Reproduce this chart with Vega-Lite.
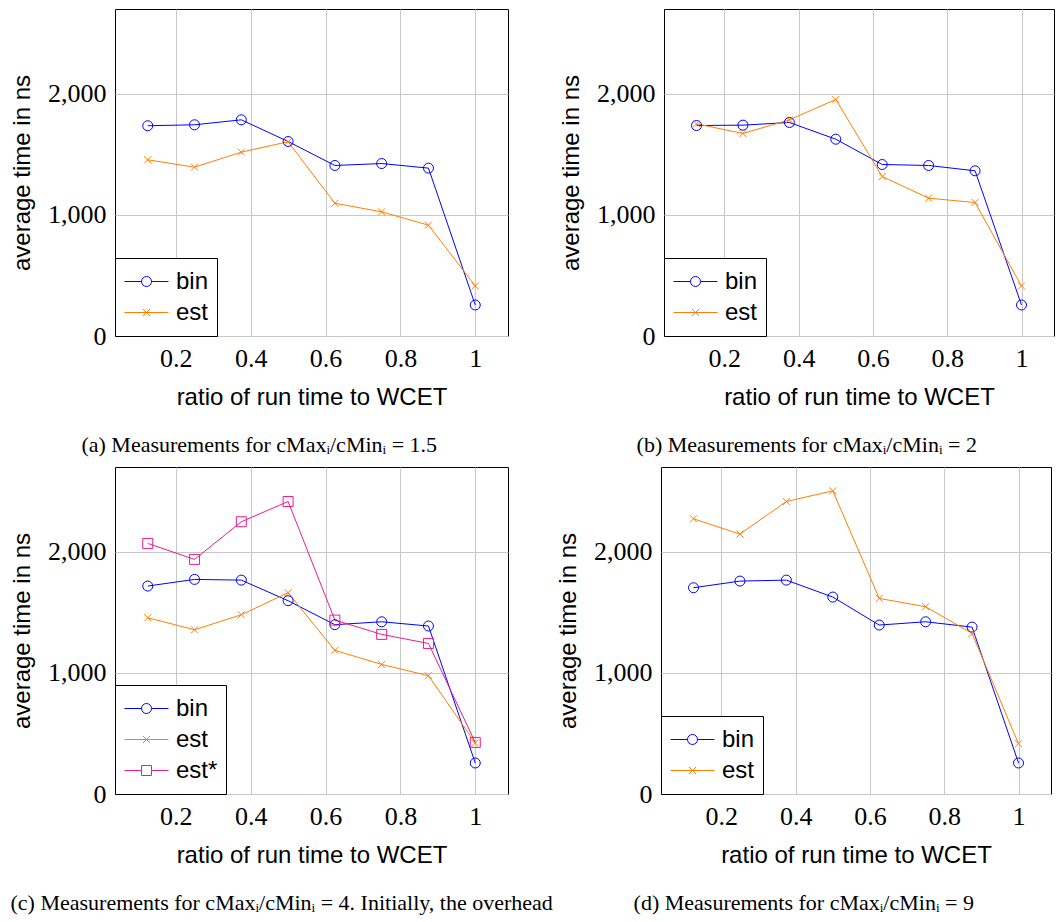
{
  "$schema": "https://vega.github.io/schema/vega-lite/v6.json",
  "padding": {"top": 8, "left": 10, "right": 0, "bottom": 0},
  "background": "white",
  "datasets": {
    "all": [
      {"panel": "a", "series": "bin", "ratio": 0.125, "time": 1736},
      {"panel": "a", "series": "bin", "ratio": 0.25, "time": 1744},
      {"panel": "a", "series": "bin", "ratio": 0.375, "time": 1785},
      {"panel": "a", "series": "bin", "ratio": 0.5, "time": 1606},
      {"panel": "a", "series": "bin", "ratio": 0.625, "time": 1408},
      {"panel": "a", "series": "bin", "ratio": 0.75, "time": 1424},
      {"panel": "a", "series": "bin", "ratio": 0.875, "time": 1386},
      {"panel": "a", "series": "bin", "ratio": 1, "time": 256},
      {"panel": "a", "series": "est", "ratio": 0.125, "time": 1455},
      {"panel": "a", "series": "est", "ratio": 0.25, "time": 1394},
      {"panel": "a", "series": "est", "ratio": 0.375, "time": 1518},
      {"panel": "a", "series": "est", "ratio": 0.5, "time": 1604},
      {"panel": "a", "series": "est", "ratio": 0.625, "time": 1096},
      {"panel": "a", "series": "est", "ratio": 0.75, "time": 1025},
      {"panel": "a", "series": "est", "ratio": 0.875, "time": 915},
      {"panel": "a", "series": "est", "ratio": 1, "time": 413},
      {"panel": "b", "series": "bin", "ratio": 0.125, "time": 1738},
      {"panel": "b", "series": "bin", "ratio": 0.25, "time": 1741},
      {"panel": "b", "series": "bin", "ratio": 0.375, "time": 1763},
      {"panel": "b", "series": "bin", "ratio": 0.5, "time": 1625},
      {"panel": "b", "series": "bin", "ratio": 0.625, "time": 1416},
      {"panel": "b", "series": "bin", "ratio": 0.75, "time": 1408},
      {"panel": "b", "series": "bin", "ratio": 0.875, "time": 1364},
      {"panel": "b", "series": "bin", "ratio": 1, "time": 256},
      {"panel": "b", "series": "est", "ratio": 0.125, "time": 1752},
      {"panel": "b", "series": "est", "ratio": 0.25, "time": 1672},
      {"panel": "b", "series": "est", "ratio": 0.375, "time": 1785},
      {"panel": "b", "series": "est", "ratio": 0.5, "time": 1953},
      {"panel": "b", "series": "est", "ratio": 0.625, "time": 1317},
      {"panel": "b", "series": "est", "ratio": 0.75, "time": 1138},
      {"panel": "b", "series": "est", "ratio": 0.875, "time": 1102},
      {"panel": "b", "series": "est", "ratio": 1, "time": 413},
      {"panel": "c", "series": "bin", "ratio": 0.125, "time": 1717},
      {"panel": "c", "series": "bin", "ratio": 0.25, "time": 1772},
      {"panel": "c", "series": "bin", "ratio": 0.375, "time": 1766},
      {"panel": "c", "series": "bin", "ratio": 0.5, "time": 1596},
      {"panel": "c", "series": "bin", "ratio": 0.625, "time": 1398},
      {"panel": "c", "series": "bin", "ratio": 0.75, "time": 1422},
      {"panel": "c", "series": "bin", "ratio": 0.875, "time": 1387},
      {"panel": "c", "series": "bin", "ratio": 1, "time": 256},
      {"panel": "c", "series": "est", "ratio": 0.125, "time": 1455},
      {"panel": "c", "series": "est", "ratio": 0.25, "time": 1356},
      {"panel": "c", "series": "est", "ratio": 0.375, "time": 1480},
      {"panel": "c", "series": "est", "ratio": 0.5, "time": 1662},
      {"panel": "c", "series": "est", "ratio": 0.625, "time": 1186},
      {"panel": "c", "series": "est", "ratio": 0.75, "time": 1070},
      {"panel": "c", "series": "est", "ratio": 0.875, "time": 977},
      {"panel": "c", "series": "est", "ratio": 1, "time": 421},
      {"panel": "c", "series": "est*", "ratio": 0.125, "time": 2069},
      {"panel": "c", "series": "est*", "ratio": 0.25, "time": 1937},
      {"panel": "c", "series": "est*", "ratio": 0.375, "time": 2248},
      {"panel": "c", "series": "est*", "ratio": 0.5, "time": 2415},
      {"panel": "c", "series": "est*", "ratio": 0.625, "time": 1436},
      {"panel": "c", "series": "est*", "ratio": 0.75, "time": 1318},
      {"panel": "c", "series": "est*", "ratio": 0.875, "time": 1243},
      {"panel": "c", "series": "est*", "ratio": 1, "time": 426},
      {"panel": "d", "series": "bin", "ratio": 0.125, "time": 1703},
      {"panel": "d", "series": "bin", "ratio": 0.25, "time": 1758},
      {"panel": "d", "series": "bin", "ratio": 0.375, "time": 1766},
      {"panel": "d", "series": "bin", "ratio": 0.5, "time": 1626},
      {"panel": "d", "series": "bin", "ratio": 0.625, "time": 1395},
      {"panel": "d", "series": "bin", "ratio": 0.75, "time": 1422},
      {"panel": "d", "series": "bin", "ratio": 0.875, "time": 1378},
      {"panel": "d", "series": "bin", "ratio": 1, "time": 256},
      {"panel": "d", "series": "est", "ratio": 0.125, "time": 2272},
      {"panel": "d", "series": "est", "ratio": 0.25, "time": 2146},
      {"panel": "d", "series": "est", "ratio": 0.375, "time": 2415},
      {"panel": "d", "series": "est", "ratio": 0.5, "time": 2503},
      {"panel": "d", "series": "est", "ratio": 0.625, "time": 1615},
      {"panel": "d", "series": "est", "ratio": 0.75, "time": 1546},
      {"panel": "d", "series": "est", "ratio": 0.875, "time": 1326},
      {"panel": "d", "series": "est", "ratio": 1, "time": 415}
    ]
  },
  "data": {"name": "all"},
  "vconcat": [
    {
      "bounds": "flush",
      "hconcat": [
        {
          "width": 393, "height": 327,
          "title": {"text": "(a) Measurements for cMaxᵢ/cMinᵢ = 1.5"},
          "transform": [{"filter": "datum.panel === 'a'"}],
          "encoding": {
            "x": {"field": "ratio", "type": "quantitative", "scale": {"domain": [0.0375, 1.0875], "nice": false, "zero": false}, "axis": {"values": [0.2, 0.4, 0.6, 0.8, 1], "format": "~g", "title": "ratio of run time to WCET"}},
            "y": {"field": "time", "type": "quantitative", "scale": {"domain": [0, 2700], "nice": false}, "axis": {"values": [0, 1000, 2000], "format": ",.0f", "title": "average time in ns"}},
            "color": {"field": "series", "type": "nominal", "scale": {"domain": ["bin", "est"], "range": ["#0000ff", "#ff8000"]},
              "legend": {"encode": {"symbols": {"update": {"shape": {"signal": "datum.value === 'bin' ? 'M-1,0H-0.227M0.227,0H1M-0.227,0A0.227,0.227,0,1,0,0.227,0A0.227,0.227,0,1,0,-0.227,0' : datum.value === 'est' ? 'M-1,0H1M-0.16,-0.16L0.16,0.16M-0.16,0.16L0.16,-0.16' : 'M-1,0H-0.227M0.227,0H1M-0.227,-0.227H0.227V0.227H-0.227Z'"}, "stroke": {"signal": "datum.value === 'bin' ? '#0000ff' : datum.value === 'est' ? '#ff8000' : '#ec1c8e'"}, "fill": {"value": "transparent"}, "opacity": {"value": 1}, "strokeOpacity": {"value": 1}}}}}}
          },
          "layer": [
            {"mark": {"type": "line", "strokeWidth": 1}},
            {"mark": {"type": "point", "filled": false, "size": 100, "strokeWidth": 1, "opacity": 1}, "encoding": {"shape": {"field": "series", "type": "nominal", "scale": {"domain": ["bin", "est", "est*", "none"], "range": ["circle", "M-0.7,-0.7L0.7,0.7M-0.7,0.7L0.7,-0.7", "square", "circle"]}, "legend": null}}}
          ]
        },
        {
          "width": 390, "height": 327,
          "title": {"text": "(b) Measurements for cMaxᵢ/cMinᵢ = 2"},
          "transform": [{"filter": "datum.panel === 'b'"}],
          "encoding": {
            "x": {"field": "ratio", "type": "quantitative", "scale": {"domain": [0.0375, 1.0875], "nice": false, "zero": false}, "axis": {"values": [0.2, 0.4, 0.6, 0.8, 1], "format": "~g", "title": "ratio of run time to WCET"}},
            "y": {"field": "time", "type": "quantitative", "scale": {"domain": [0, 2700], "nice": false}, "axis": {"values": [0, 1000, 2000], "format": ",.0f", "title": "average time in ns"}},
            "color": {"field": "series", "type": "nominal", "scale": {"domain": ["bin", "est"], "range": ["#0000ff", "#ff8000"]},
              "legend": {"encode": {"symbols": {"update": {"shape": {"signal": "datum.value === 'bin' ? 'M-1,0H-0.227M0.227,0H1M-0.227,0A0.227,0.227,0,1,0,0.227,0A0.227,0.227,0,1,0,-0.227,0' : datum.value === 'est' ? 'M-1,0H1M-0.16,-0.16L0.16,0.16M-0.16,0.16L0.16,-0.16' : 'M-1,0H-0.227M0.227,0H1M-0.227,-0.227H0.227V0.227H-0.227Z'"}, "stroke": {"signal": "datum.value === 'bin' ? '#0000ff' : datum.value === 'est' ? '#ff8000' : '#ec1c8e'"}, "fill": {"value": "transparent"}, "opacity": {"value": 1}, "strokeOpacity": {"value": 1}}}}}}
          },
          "layer": [
            {"mark": {"type": "line", "strokeWidth": 1}},
            {"mark": {"type": "point", "filled": false, "size": 100, "strokeWidth": 1, "opacity": 1}, "encoding": {"shape": {"field": "series", "type": "nominal", "scale": {"domain": ["bin", "est", "est*", "none"], "range": ["circle", "M-0.7,-0.7L0.7,0.7M-0.7,0.7L0.7,-0.7", "square", "circle"]}, "legend": null}}}
          ]
        }
      ],
      "spacing": 156,
      "resolve": {"scale": {"color": "independent", "shape": "independent"}, "legend": {"color": "independent"}}
    },
    {
      "bounds": "flush",
      "hconcat": [
        {
          "width": 393, "height": 327,
          "title": {"text": "(c) Measurements for cMaxᵢ/cMinᵢ = 4. Initially, the overhead", "anchor": "start"},
          "transform": [{"filter": "datum.panel === 'c'"}],
          "encoding": {
            "x": {"field": "ratio", "type": "quantitative", "scale": {"domain": [0.0375, 1.0875], "nice": false, "zero": false}, "axis": {"values": [0.2, 0.4, 0.6, 0.8, 1], "format": "~g", "title": "ratio of run time to WCET"}},
            "y": {"field": "time", "type": "quantitative", "scale": {"domain": [0, 2700], "nice": false}, "axis": {"values": [0, 1000, 2000], "format": ",.0f", "title": "average time in ns"}},
            "color": {"field": "series", "type": "nominal", "scale": {"domain": ["bin", "est", "est*"], "range": ["#0000ff", "#ff8000", "#ec1c8e"]},
              "legend": {"encode": {"symbols": {"update": {"shape": {"signal": "datum.value === 'bin' ? 'M-1,0H-0.227M0.227,0H1M-0.227,0A0.227,0.227,0,1,0,0.227,0A0.227,0.227,0,1,0,-0.227,0' : datum.value === 'est' ? 'M-1,0H1M-0.16,-0.16L0.16,0.16M-0.16,0.16L0.16,-0.16' : 'M-1,0H-0.227M0.227,0H1M-0.227,-0.227H0.227V0.227H-0.227Z'"}, "stroke": {"signal": "datum.value === 'bin' ? '#0000ff' : datum.value === 'est' ? '#ff8000' : '#ec1c8e'"}, "fill": {"value": "transparent"}, "opacity": {"value": 1}, "strokeOpacity": {"value": 1}}}}}}
          },
          "layer": [
            {"mark": {"type": "line", "strokeWidth": 1}},
            {"mark": {"type": "point", "filled": false, "size": 100, "strokeWidth": 1, "opacity": 1}, "encoding": {"shape": {"field": "series", "type": "nominal", "scale": {"domain": ["bin", "est", "est*", "none"], "range": ["circle", "M-0.7,-0.7L0.7,0.7M-0.7,0.7L0.7,-0.7", "square", "circle"]}, "legend": null}}}
          ]
        },
        {
          "width": 390, "height": 327,
          "title": {"text": "(d) Measurements for cMaxᵢ/cMinᵢ = 9"},
          "transform": [{"filter": "datum.panel === 'd'"}],
          "encoding": {
            "x": {"field": "ratio", "type": "quantitative", "scale": {"domain": [0.0375, 1.0875], "nice": false, "zero": false}, "axis": {"values": [0.2, 0.4, 0.6, 0.8, 1], "format": "~g", "title": "ratio of run time to WCET"}},
            "y": {"field": "time", "type": "quantitative", "scale": {"domain": [0, 2700], "nice": false}, "axis": {"values": [0, 1000, 2000], "format": ",.0f", "title": "average time in ns"}},
            "color": {"field": "series", "type": "nominal", "scale": {"domain": ["bin", "est"], "range": ["#0000ff", "#ff8000"]},
              "legend": {"encode": {"symbols": {"update": {"shape": {"signal": "datum.value === 'bin' ? 'M-1,0H-0.227M0.227,0H1M-0.227,0A0.227,0.227,0,1,0,0.227,0A0.227,0.227,0,1,0,-0.227,0' : datum.value === 'est' ? 'M-1,0H1M-0.16,-0.16L0.16,0.16M-0.16,0.16L0.16,-0.16' : 'M-1,0H-0.227M0.227,0H1M-0.227,-0.227H0.227V0.227H-0.227Z'"}, "stroke": {"signal": "datum.value === 'bin' ? '#0000ff' : datum.value === 'est' ? '#ff8000' : '#ec1c8e'"}, "fill": {"value": "transparent"}, "opacity": {"value": 1}, "strokeOpacity": {"value": 1}}}}}}
          },
          "layer": [
            {"mark": {"type": "line", "strokeWidth": 1}},
            {"mark": {"type": "point", "filled": false, "size": 100, "strokeWidth": 1, "opacity": 1}, "encoding": {"shape": {"field": "series", "type": "nominal", "scale": {"domain": ["bin", "est", "est*", "none"], "range": ["circle", "M-0.7,-0.7L0.7,0.7M-0.7,0.7L0.7,-0.7", "square", "circle"]}, "legend": null}}}
          ]
        }
      ],
      "spacing": 153,
      "resolve": {"scale": {"color": "independent", "shape": "independent"}, "legend": {"color": "independent"}}
    }
  ],
  "spacing": 9,
  "resolve": {"scale": {"color": "independent", "shape": "independent"}, "legend": {"color": "independent"}},
  "config": {
    "font": "Liberation Sans",
    "view": {"stroke": "black", "strokeWidth": 1},
    "axis": {
      "labelFont": "Liberation Serif", "labelFontSize": 26, "labelColor": "black", "labelPadding": 9,
      "titleFont": "Liberation Sans", "titleFontSize": 24, "titleFontWeight": "normal", "titleColor": "black",
      "gridColor": "#c8c8c8", "gridWidth": 1, "gridOpacity": 1, "domain": false, "ticks": false
    },
    "axisX": {"titlePadding": 14},
    "axisY": {"titlePadding": 13},
    "title": {"font": "Liberation Serif", "fontSize": 22, "fontWeight": "normal", "color": "black", "orient": "bottom", "frame": "bounds", "offset": 26, "anchor": "middle"},
    "legend": {
      "orient": "bottom-left", "offset": 0, "title": null,
      "strokeColor": "black", "fillColor": "white", "padding": 8, "cornerRadius": 0,
      "symbolSize": 1936, "symbolStrokeWidth": 1, "symbolFillColor": "transparent", "symbolOffset": 1,
      "labelFont": "Liberation Sans", "labelFontSize": 24, "labelColor": "black", "labelAlign": "left", "labelOffset": 7, "rowPadding": 0,
      "clipHeight": 31
    }
  }
}
